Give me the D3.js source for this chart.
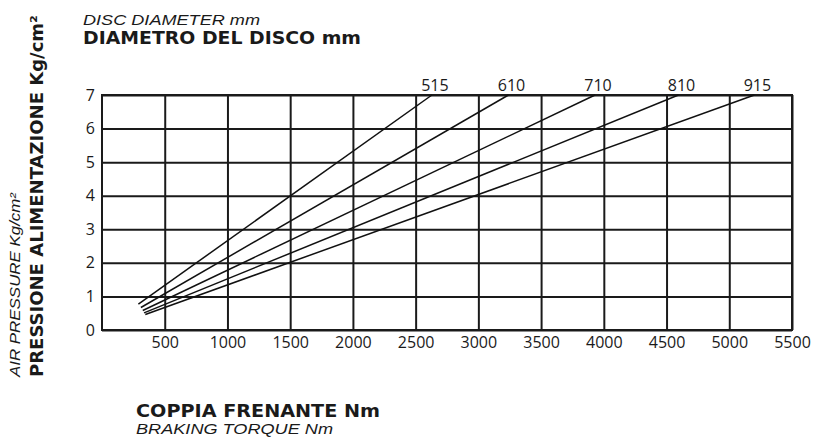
<!DOCTYPE html>
<html>
<head>
<meta charset="utf-8">
<script src="https://cdn.jsdelivr.net/npm/d3@7"></script>
<style>
  body { margin: 0; background: #fff; }
  svg text { fill: #1a1a1a; }
</style>
</head>
<body>
<div id="chart"></div>
<script>
// disc diameters (mm) and the two end points of each straight line
var diameters = [515, 610, 710, 810, 915];
var torqueStart = [290, 310, 325, 335, 345];
var pressureStart = [0.77, 0.67, 0.58, 0.51, 0.46];
var torqueEnd = [2630, 3240, 3930, 4595, 5200];
var pressureEnd = [7, 7, 7, 7, 7];

var xTicks = [500, 1000, 1500, 2000, 2500, 3000, 3500, 4000, 4500, 5000, 5500];
var yTicks = [0, 1, 2, 3, 4, 5, 6, 7];

var W = 820, H = 441;
var margin = {top: 95, left: 102, right: 28, bottom: 111};
var w = W - margin.left - margin.right;
var h = H - margin.top - margin.bottom;

var svg = d3.select("#chart").append("svg")
  .attr("width", W)
  .attr("height", H);

var x = d3.scaleLinear().domain([0, 5500]).range([0, w]);
var y = d3.scaleLinear().domain([0, 7]).range([h, 0]);

var g = svg.append("g")
  .attr("transform", "translate(" + margin.left + "," + margin.top + ")");

// grid + labels via axes
var xAxis = g.append("g")
  .attr("transform", "translate(0," + h + ")")
  .call(d3.axisBottom(x).tickValues(xTicks).tickFormat(d3.format("d"))
    .tickSize(-h).tickPadding(7));
var yAxis = g.append("g")
  .call(d3.axisLeft(y).tickValues(yTicks).tickFormat(d3.format("d"))
    .tickSize(-w).tickPadding(7));

[xAxis, yAxis].forEach(function(a) {
  a.select(".domain").remove();
  a.selectAll("line").attr("stroke", "#1a1a1a").attr("stroke-width", 2);
  a.selectAll("text")
    .attr("font-family", "'Open Sans', sans-serif")
    .attr("font-size", "16px")
    .attr("fill", "#1a1a1a");
});

g.append("rect")
  .attr("width", w).attr("height", h)
  .attr("fill", "none")
  .attr("stroke", "#1a1a1a")
  .attr("stroke-width", 2);

// diameter lines
g.selectAll(".disc")
  .data(diameters)
  .enter().append("line")
  .attr("class", "disc")
  .attr("x1", function(d, i) { return x(torqueStart[i]); })
  .attr("y1", function(d, i) { return y(pressureStart[i]); })
  .attr("x2", function(d, i) { return x(torqueEnd[i]); })
  .attr("y2", function(d, i) { return y(pressureEnd[i]); })
  .attr("stroke", "#111")
  .attr("stroke-width", 1.5);

g.selectAll(".disc-label")
  .data(diameters)
  .enter().append("text")
  .attr("class", "disc-label")
  .attr("x", function(d, i) { return x(torqueEnd[i]) + 3; })
  .attr("y", function(d, i) { return y(pressureEnd[i]) - 4; })
  .attr("text-anchor", "middle")
  .attr("font-family", "'Open Sans', sans-serif")
  .attr("font-size", "16px")
  .text(function(d) { return d; });

// titles
function title(txt, px, py, size, italic, len, rot) {
  var t = svg.append("text")
    .attr("x", px).attr("y", py)
    .attr("font-family", italic ? "'Liberation Sans', Arial, sans-serif" : "'DejaVu Sans', sans-serif")
    .attr("font-size", size + "px")
    .attr("font-weight", italic ? "normal" : "bold")
    .attr("font-style", italic ? "italic" : "normal")
    .attr("textLength", len)
    .attr("lengthAdjust", "spacingAndGlyphs")
    .text(txt);
  if (rot) t.attr("transform", "rotate(-90," + px + "," + py + ")");
}

title("DISC DIAMETER mm", 83, 25, 14, true, 177);
title("DIAMETRO DEL DISCO mm", 83, 44, 17, false, 278);
title("COPPIA FRENANTE Nm", 136, 417, 17, false, 244);
title("BRAKING TORQUE Nm", 136, 434, 14, true, 197);
title("AIR PRESSURE Kg/cm\u00b2", 20, 377, 14, true, 184, true);
title("PRESSIONE ALIMENTAZIONE Kg/cm\u00b2", 43, 377, 17, false, 362, true);
</script>
</body>
</html>
